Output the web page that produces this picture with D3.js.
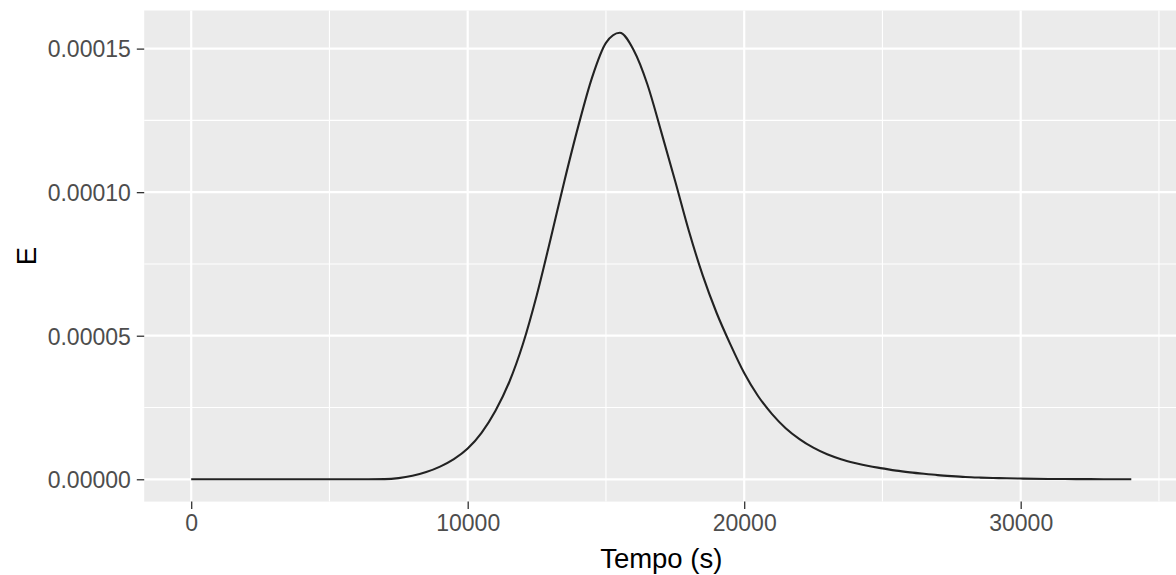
<!DOCTYPE html>
<html>
<head>
<meta charset="utf-8">
<script src="https://cdn.jsdelivr.net/npm/d3@7"></script>
<style>
  body { margin: 0; background: #fff; }
  svg { display: block; font-family: "Liberation Sans", Arial, sans-serif; }
</style>
</head>
<body>
<svg id="chart" width="1176" height="575"></svg>
<script>
// Data (E in 1/s, tempo in s)
var tempo = [0, 1000, 2000, 3000, 4000, 5000, 6000, 7000, 7500, 8000, 8500, 9000, 9500,
  10000, 10500, 11000, 11500, 12000, 12500, 13000, 13500, 14000, 14500, 15000, 15500,
  16000, 16500, 17000, 17500, 18000, 18500, 19000, 19500, 20000, 20500, 21000, 21500,
  22000, 22500, 23000, 23500, 24000, 24500, 25000, 25500, 26000, 26500, 27000, 27500,
  28000, 28500, 29000, 29500, 30000, 31000, 32000, 33000, 34000];
var E = [0, 0, 0, 0, 0, 0, 0, 0.005e-5, 0.04e-5, 0.12e-5, 0.25e-5, 0.44e-5, 0.7e-5,
  1.07e-5, 1.62e-5, 2.38e-5, 3.38e-5, 4.72e-5, 6.42e-5, 8.38e-5, 10.4e-5, 12.3e-5, 14.0e-5, 15.2e-5, 15.55e-5,
  14.95e-5, 13.75e-5, 12.1e-5, 10.4e-5, 8.65e-5, 7.1e-5, 5.8e-5, 4.7e-5, 3.7e-5, 2.9e-5, 2.28e-5, 1.78e-5,
  1.4e-5, 1.1e-5, 0.87e-5, 0.7e-5, 0.57e-5, 0.46e-5, 0.38e-5, 0.3e-5, 0.24e-5, 0.19e-5, 0.145e-5, 0.11e-5,
  0.08e-5, 0.06e-5, 0.045e-5, 0.035e-5, 0.025e-5, 0.012e-5, 0.006e-5, 0.003e-5, 0];

var xTicks = [0, 10000, 20000, 30000];
var xMinor = [5000, 15000, 25000, 35000];
var yTicks = [0, 0.00005, 0.0001, 0.00015];
var yMinor = [0.000025, 0.000075, 0.000125];

var data = tempo.map(function(t, i) { return {t: t, e: E[i]}; });

var svg = d3.select("#chart"),
    pLeft = 144.2, pRight = 1178.3, pTop = 10.5, pBottom = 501.6;

// ggplot-like 5% expansion
var xr = d3.extent(tempo), yr = d3.extent(E);
var xpad = (xr[1] - xr[0]) * 0.05, ypad = (yr[1] - yr[0]) * 0.05;
var x = d3.scaleLinear().domain([xr[0] - xpad, xr[1] + xpad]).range([pLeft, pRight]);
var y = d3.scaleLinear().domain([yr[0] - ypad, yr[1] + ypad]).range([pBottom, pTop]);

// panel
svg.append("rect")
    .attr("x", pLeft).attr("y", pTop)
    .attr("width", pRight - pLeft).attr("height", pBottom - pTop)
    .attr("fill", "#EBEBEB");

var grid = svg.append("g");
grid.selectAll(".ymin").data(yMinor).enter().append("line")
    .attr("x1", pLeft).attr("x2", pRight)
    .attr("y1", function(d) { return y(d); }).attr("y2", function(d) { return y(d); })
    .attr("stroke", "#fff").attr("stroke-width", 1.1);
grid.selectAll(".xmin").data(xMinor).enter().append("line")
    .attr("y1", pTop).attr("y2", pBottom)
    .attr("x1", function(d) { return x(d); }).attr("x2", function(d) { return x(d); })
    .attr("stroke", "#fff").attr("stroke-width", 1.1);
grid.selectAll(".ymaj").data(yTicks).enter().append("line")
    .attr("x1", pLeft).attr("x2", pRight)
    .attr("y1", function(d) { return y(d); }).attr("y2", function(d) { return y(d); })
    .attr("stroke", "#fff").attr("stroke-width", 2.2);
grid.selectAll(".xmaj").data(xTicks).enter().append("line")
    .attr("y1", pTop).attr("y2", pBottom)
    .attr("x1", function(d) { return x(d); }).attr("x2", function(d) { return x(d); })
    .attr("stroke", "#fff").attr("stroke-width", 2.2);

// curve
var line = d3.line()
    .x(function(d) { return x(d.t); })
    .y(function(d) { return y(d.e); })
    .curve(d3.curveMonotoneX);
svg.append("path").datum(data)
    .attr("d", line)
    .attr("fill", "none")
    .attr("stroke", "#222")
    .attr("stroke-width", 2.1);

// axes
var xAxis = svg.append("g")
    .attr("transform", "translate(0," + pBottom + ")")
    .call(d3.axisBottom(x).tickValues(xTicks).tickFormat(d3.format("d")).tickSize(7.4).tickPadding(6));
var yAxis = svg.append("g")
    .attr("transform", "translate(" + pLeft + ",0)")
    .call(d3.axisLeft(y).tickValues(yTicks).tickFormat(d3.format(".5f")).tickSize(7.4).tickPadding(6));
[xAxis, yAxis].forEach(function(a) {
  a.select(".domain").remove();
  a.selectAll(".tick line").attr("stroke", "#333").attr("stroke-width", 1.3);
  a.selectAll(".tick text").attr("fill", "#4D4D4D").style("font-size", "23px");
});
yAxis.selectAll(".tick text").attr("dy", "0.36em");

// titles
svg.append("text")
    .attr("x", (pLeft + pRight) / 2).attr("y", 568)
    .attr("text-anchor", "middle")
    .style("font-size", "27.5px").attr("fill", "#000")
    .text("Tempo (s)");
svg.append("text")
    .attr("transform", "translate(36," + (pTop + pBottom) / 2 + ") rotate(-90)")
    .attr("text-anchor", "middle")
    .style("font-size", "27.5px").attr("fill", "#000")
    .text("E");
</script>
</body>
</html>
